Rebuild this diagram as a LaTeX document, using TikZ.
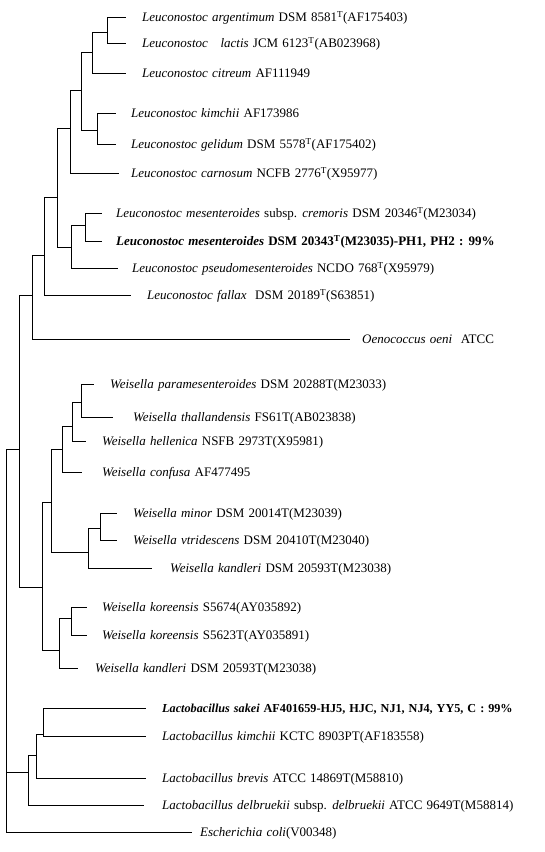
\documentclass[tikz,border=0pt]{standalone}
\usepackage{fontspec}
\setmainfont[WordSpace=1.3]{Liberation Serif}
\newcommand{\lblfont}{\fontsize{13}{15}\selectfont}
\newcommand{\sT}{\textsuperscript{T}}
\begin{document}
\begin{tikzpicture}[x=1pt,y=-1pt,
  br/.style={line width=0.8pt, black},
  lbl/.style={anchor=base west, inner sep=0pt, font=\lblfont}]
\useasboundingbox (0,0) rectangle (544,852);
% ---------- leaf tips ----------
\coordinate (t1) at (126,17);
\coordinate (t2) at (126,43);
\coordinate (t3) at (126,73);
\coordinate (t4) at (116,113);
\coordinate (t5) at (116,144);
\coordinate (t6) at (119,173);
\coordinate (t7) at (102,213);
\coordinate (t8) at (102,241);
\coordinate (t9) at (118,268);
\coordinate (t10) at (131,295);
\coordinate (t11) at (350,339);
\coordinate (t12) at (94,384);
\coordinate (t13) at (113,417);
\coordinate (t14) at (86,441);
\coordinate (t15) at (82,472);
\coordinate (t16) at (117,513);
\coordinate (t17) at (117,540);
\coordinate (t18) at (152,568);
\coordinate (t19) at (87,607);
\coordinate (t20) at (87,635);
\coordinate (t21) at (78,668);
\coordinate (t22) at (146,708);
\coordinate (t23) at (146,736);
\coordinate (t24) at (146,778);
\coordinate (t25) at (144,805);
\coordinate (t26) at (192,832);
% ---------- internal nodes ----------
\coordinate (A1) at (107,32);
\coordinate (A2) at (92,52);
\coordinate (A3) at (97,130);
\coordinate (A4) at (81,90);
\coordinate (A5) at (70,128);
\coordinate (A6) at (85,225);
\coordinate (A7) at (71,247);
\coordinate (A8) at (57,197);
\coordinate (A9) at (44,255);
\coordinate (A10) at (32,295);
\coordinate (W1) at (81,402);
\coordinate (W2) at (72,426);
\coordinate (W3) at (62,449);
\coordinate (W4) at (100,528);
\coordinate (W5) at (88,552);
\coordinate (W6) at (51,502);
\coordinate (W7) at (71,618);
\coordinate (W8) at (59,650);
\coordinate (W9) at (42,587);
\coordinate (B1) at (19,449);
\coordinate (C1) at (43,734);
\coordinate (C2) at (36,755);
\coordinate (C3) at (28,772);
\coordinate (R) at (6,640);
% ---------- branches ----------
\draw[br] (A1) |- (t1); \draw[br] (A1) |- (t2);
\draw[br] (A2) |- (A1); \draw[br] (A2) |- (t3);
\draw[br] (A3) |- (t4); \draw[br] (A3) |- (t5);
\draw[br] (A4) |- (A2); \draw[br] (A4) |- (A3);
\draw[br] (A5) |- (A4); \draw[br] (A5) |- (t6);
\draw[br] (A6) |- (t7); \draw[br] (A6) |- (t8);
\draw[br] (A7) |- (A6); \draw[br] (A7) |- (t9);
\draw[br] (A8) |- (A5); \draw[br] (A8) |- (A7);
\draw[br] (A9) |- (A8); \draw[br] (A9) |- (t10);
\draw[br] (A10) |- (A9); \draw[br] (A10) |- (t11);
\draw[br] (W1) |- (t12); \draw[br] (W1) |- (t13);
\draw[br] (W2) |- (W1); \draw[br] (W2) |- (t14);
\draw[br] (W3) |- (W2); \draw[br] (W3) |- (t15);
\draw[br] (W4) |- (t16); \draw[br] (W4) |- (t17);
\draw[br] (W5) |- (W4); \draw[br] (W5) |- (t18);
\draw[br] (W6) |- (W3); \draw[br] (W6) |- (W5);
\draw[br] (W7) |- (t19); \draw[br] (W7) |- (t20);
\draw[br] (W8) |- (W7); \draw[br] (W8) |- (t21);
\draw[br] (W9) |- (W6); \draw[br] (W9) |- (W8);
\draw[br] (B1) |- (A10); \draw[br] (B1) |- (W9);
\draw[br] (C1) |- (t22); \draw[br] (C1) |- (t23);
\draw[br] (C2) |- (C1); \draw[br] (C2) |- (t24);
\draw[br] (C3) |- (C2); \draw[br] (C3) |- (t25);
\draw[br] (R) |- (B1); \draw[br] (R) |- (C3); \draw[br] (R) |- (t26);
% ---------- labels ----------
\node[lbl] (n1) at (142,21.5) {\textit{Leuconostoc argentimum} DSM 8581\sT(AF175403)};
\node[lbl] (n2) at (142,47.5) {\textit{Leuconostoc\ \ \ lactis} JCM 6123\sT(AB023968)};
\node[lbl] (n3) at (142,77.5) {\textit{Leuconostoc citreum} AF111949};
\node[lbl] (n4) at (131,117.5) {\textit{Leuconostoc kimchii} AF173986};
\node[lbl] (n5) at (131,148.5) {\textit{Leuconostoc gelidum} DSM 5578\sT(AF175402)};
\node[lbl] (n6) at (131,177.5) {\textit{Leuconostoc carnosum} NCFB 2776\sT(X95977)};
\node[lbl] (n7) at (116,217.5) {\textit{Leuconostoc mesenteroides} subsp. \textit{cremoris} DSM 20346\sT(M23034)};
\node[lbl] (n8) at (116,245.5) {\bfseries\textit{Leuconostoc mesenteroides} DSM 20343\sT(M23035)-PH1, PH2 : 99\%};
\node[lbl] (n9) at (132,272.5) {\textit{Leuconostoc pseudomesenteroides} NCDO 768\sT(X95979)};
\node[lbl] (n10) at (147,299.5) {\textit{Leuconostoc fallax}\ \ DSM 20189\sT(S63851)};
\node[lbl] (n11) at (362,343.5) {\textit{Oenococcus oeni}\ \ ATCC};
\node[lbl] (n12) at (110,388.5) {\textit{Weisella paramesenteroides} DSM 20288T(M23033)};
\node[lbl] (n13) at (133,421.5) {\textit{Weisella thallandensis} FS61T(AB023838)};
\node[lbl] (n14) at (102,445.5) {\textit{Weisella hellenica} NSFB 2973T(X95981)};
\node[lbl] (n15) at (102,476.5) {\textit{Weisella confusa} AF477495};
\node[lbl] (n16) at (133,517.5) {\textit{Weisella minor} DSM 20014T(M23039)};
\node[lbl] (n17) at (133,544.5) {\textit{Weisella vtridescens} DSM 20410T(M23040)};
\node[lbl] (n18) at (170,572.5) {\textit{Weisella kandleri} DSM 20593T(M23038)};
\node[lbl] (n19) at (102,611.5) {\textit{Weisella koreensis} S5674(AY035892)};
\node[lbl] (n20) at (102,639.5) {\textit{Weisella koreensis} S5623T(AY035891)};
\node[lbl] (n21) at (95,672.5) {\textit{Weisella kandleri} DSM 20593T(M23038)};
\node[lbl, font=\fontsize{12.2}{14}\selectfont] (n22) at (162,712.5) {\bfseries\textit{Lactobacillus sakei} AF401659-HJ5, HJC, NJ1, NJ4, YY5, C : 99\%};
\node[lbl] (n23) at (162,740.5) {\textit{Lactobacillus kimchii} KCTC 8903PT(AF183558)};
\node[lbl] (n24) at (162,782.5) {\textit{Lactobacillus brevis} ATCC 14869T(M58810)};
\node[lbl] (n25) at (162,809.5) {\textit{Lactobacillus delbruekii} subsp. \textit{delbruekii} ATCC 9649T(M58814)};
\node[lbl] (n26) at (200,836.5) {\textit{Escherichia coli}(V00348)};
\end{tikzpicture}
\end{document}
